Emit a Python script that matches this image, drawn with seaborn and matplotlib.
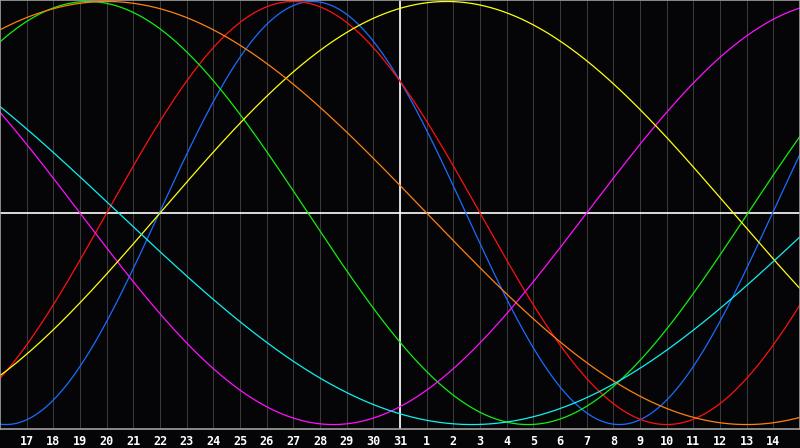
import numpy as np
import pandas as pd
import matplotlib
matplotlib.use('Agg')
import matplotlib.pyplot as plt
import seaborn as sns

# Day labels along the bottom (one per gridline), today is "31"
day_labels = [17, 18, 19, 20, 21, 22, 23, 24, 25, 26, 27, 28, 29, 30, 31,
              1, 2, 3, 4, 5, 6, 7, 8, 9, 10, 11, 12, 13, 14]
today_index = 15

# Biorhythm cycles: length in days and where the crest falls (day index)
cycle_names = ['physical', 'emotional', 'intellectual', 'intuitive',
               'aesthetic', 'awareness', 'spiritual']
cycle_periods = [23, 28, 33, 38, 43, 48, 53]
cycle_peaks = [11.72, 11.0, 3.3, 31.5, 16.75, 4.0, -8.8]
cycle_colors = ['#1a6cff', '#ff1010', '#10f010', '#ff10ff',
                '#ffff10', '#ff8010', '#10f0f0']

# 1. Build the curves
x = np.linspace(0, 30, 901)
rows = []
for name, period, peak in zip(cycle_names, cycle_periods, cycle_peaks):
    vals = np.cos(2 * np.pi * (x - peak) / period)
    rows.append(pd.DataFrame({'day': x, 'value': vals, 'cycle': name}))
df = pd.concat(rows, ignore_index=True)

# 2. Draw
sns.set_style('dark', {'axes.facecolor': '#050508', 'figure.facecolor': '#050508',
                       'axes.edgecolor': '#a0a0a0', 'axes.grid': False})

fig = plt.figure(figsize=(8, 4.48), dpi=100)
ax = fig.add_axes([0, 19 / 448, 1, 429 / 448])

# day gridlines
for i in range(1, 30):
    ax.axvline(i, color='#3a3a3a', linewidth=0.75, zorder=0)

# today marker and zero line
ax.axvline(today_index, color='white', linewidth=1.2, zorder=1)
ax.axhline(0, color='white', linewidth=1.2, zorder=1)

sns.lineplot(data=df, x='day', y='value', hue='cycle', hue_order=cycle_names,
             palette=cycle_colors, linewidth=0.9, legend=False, ax=ax,
             sort=False, zorder=2)

ax.set_xlim(0, 30)
ax.set_ylim(-1.021, 1.007)
ax.set_xlabel('')
ax.set_ylabel('')
ax.set_yticks([])
ax.set_xticks(range(1, 30))
ax.set_xticklabels([str(d) for d in day_labels], color='white',
                   fontfamily='DejaVu Sans Mono', fontweight='bold', fontsize=8.5)
ax.tick_params(axis='x', length=0, pad=4)
for spine in ax.spines.values():
    spine.set_color('#a0a0a0')
    spine.set_linewidth(1.2)

fig.savefig('out.png', dpi=100, facecolor='#050508')
